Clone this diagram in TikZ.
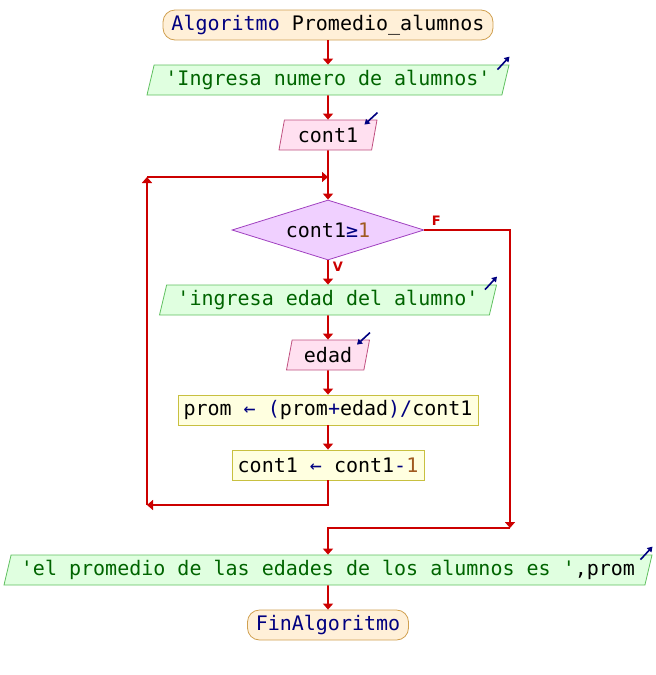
\documentclass[tikz,border=0pt]{standalone}
\usepackage{fontspec}
\setmonofont{DejaVu Sans Mono}
\setsansfont{DejaVu Sans}
\usepackage{tikz}
\usetikzlibrary{arrows.meta,shapes.geometric,calc}
\definecolor{FlowRed}{HTML}{CC0000}
\definecolor{KeyBlue}{HTML}{000080}
\definecolor{StrGreen}{HTML}{006400}
\definecolor{NumBrown}{HTML}{A05A20}
\definecolor{TermFill}{HTML}{FFF0D8}
\definecolor{TermLine}{HTML}{D0A050}
\definecolor{OutFill}{HTML}{E0FFE0}
\definecolor{OutLine}{HTML}{60C060}
\definecolor{InFill}{HTML}{FFE0F0}
\definecolor{InLine}{HTML}{C05080}
\definecolor{DecFill}{HTML}{F0D0FF}
\definecolor{DecLine}{HTML}{A040C0}
\definecolor{ProcFill}{HTML}{FFFFE0}
\definecolor{ProcLine}{HTML}{C8C040}
\newcommand{\kw}[1]{{\color{KeyBlue}#1}}
\newcommand{\num}[1]{{\color{NumBrown}#1}}

\begin{document}
\begin{tikzpicture}[x=1pt,y=-1pt,
  every node/.style={font=\ttfamily\fontsize{20}{24}\selectfont,inner sep=0pt},
  terminal/.style={draw=TermLine,fill=TermFill,rounded corners=12pt,line width=0.8pt,minimum height=30pt},
  outbox/.style={trapezium,trapezium left angle=70,trapezium right angle=110,trapezium stretches body,
    draw=OutLine,fill=OutFill,line width=0.8pt,minimum height=30pt,text=StrGreen},
  inbox/.style={outbox,draw=InLine,fill=InFill,text=black},
  procbox/.style={draw=ProcLine,fill=ProcFill,line width=0.8pt,minimum height=30pt},
  decision/.style={diamond,aspect=3.2,draw=DecLine,fill=DecFill,line width=0.8pt,minimum width=192pt,minimum height=60pt},
  flow/.style={FlowRed,line width=1.8pt,-{Triangle[length=6pt,width=10pt]}},
  iconarrow/.style={KeyBlue,line width=1.6pt,-{Triangle[length=5pt,width=6pt]}},
  branch/.style={FlowRed,font=\sffamily\bfseries\fontsize{13}{14}\selectfont}]
  \useasboundingbox (0,0) rectangle (656,675);

  \node[terminal,minimum width=330pt] (start) at (328,25) {\kw{Algoritmo} Promedio\_alumnos};
  \node[outbox,minimum width=362pt] (o1) at (328,80) {'Ingresa numero de alumnos'};
  \node[inbox,minimum width=98pt] (cin) at (328,135) {cont1};
  \node[decision] (d) at (328,230) {cont1\kw{≥}\num{1}};
  \node[outbox,minimum width=337pt] (o2) at (328,300) {'ingresa edad del alumno'};
  \node[inbox,minimum width=83pt] (ein) at (328,355) {edad};
  \node[procbox,minimum width=300pt] (p1) at (328,410) {prom \kw{←} \kw{(}prom\kw{+}edad\kw{)/}cont1};
  \node[procbox,minimum width=192pt] (p2) at (328,465) {cont1 \kw{←} cont1\kw{-}\num{1}};
  \node[outbox,minimum width=648pt] (o3) at (328,570) {'el promedio de las edades de los alumnos es '{\color{black},prom}};
  \node[terminal,minimum width=161pt,text=KeyBlue] (stop) at (328,625) {FinAlgoritmo};

  \coordinate (join) at (328,177);
  \coordinate (lt) at (147,177);
  \coordinate (lb) at (147,505);
  \coordinate (fr) at (510,528);
  \coordinate (fj) at (328,528);

  % main line
  \draw[flow] (start) -- (o1);
  \draw[flow] (o1) -- (cin);
  \draw[flow] (cin) -- (d);
  \draw[flow] (d) -- (o2) node[branch,pos=0.25,right=4pt] {V};
  \draw[flow] (o2) -- (ein);
  \draw[flow] (ein) -- (p1);
  \draw[flow] (p1) -- (p2);
  \draw[flow] (o3) -- (stop);

  % loop back
  \draw[flow] (p2.south) |- (lb);
  \draw[flow] (lb) -- (lt);
  \draw[flow] (lt) -- (join);

  % false branch
  \draw[flow] (d.east) -| (fr) node[branch,pos=0.07,above=4pt] {F};
  \draw[flow] (fr) -- (fj) -- (fj |- o3.north);

  % io marks
  \foreach \n in {o1,o2,o3}
    \draw[iconarrow] ($(\n.top right corner)+(-12,5)$) -- ($(\n.top right corner)+(0,-8)$);
  \foreach \n in {cin,ein}
    \draw[iconarrow] ($(\n.top right corner)+(0,-7)$) -- ($(\n.top right corner)+(-13,5)$);
\end{tikzpicture}
\end{document}
